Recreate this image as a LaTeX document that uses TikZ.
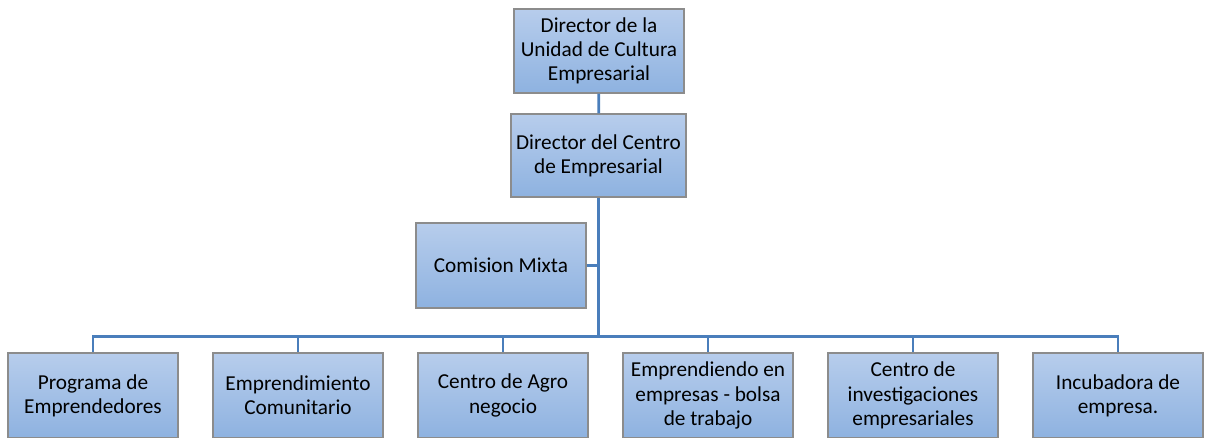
\documentclass[tikz,border=0pt]{standalone}
\usepackage{fontspec}
\setmainfont{Carlito}
\usetikzlibrary{positioning}
\definecolor{lineBlue}{RGB}{74,126,187}
\definecolor{boxTop}{RGB}{183,205,236}
\definecolor{boxBot}{RGB}{142,178,224}
\definecolor{boxEdge}{RGB}{140,140,140}
\tikzset{
  orgbox/.style={draw=boxEdge, line width=0.7pt, top color=boxTop, bottom color=boxBot,
    minimum width=3.4cm, minimum height=1.7cm, align=center, inner sep=1pt,
    font=\fontsize{12.1}{13.8}\selectfont},
  link/.style={draw=lineBlue, line width=1.6pt}
}
\begin{document}
\begin{tikzpicture}
\useasboundingbox (0,0) rectangle (24.14,-8.76);
% top of the chart
\node[orgbox, minimum height=1.68cm] (udir) at (11.98,-1.02) {Director de la\\Unidad de Cultura\\Empresarial};
\node[orgbox, minimum width=3.5cm, minimum height=1.66cm] (cdir) at (11.97,-3.11) {Director del Centro\\de Empresarial};
\node[orgbox] (mixta) at (10.02,-5.31) {Comision Mixta};
% lower row
\node[orgbox] (prog) at (1.86,-7.91) {Programa de\\Emprendedores};
\node[orgbox] (comu) at (5.96,-7.91) {Emprendimiento\\Comunitario};
\node[orgbox] (agro) at (10.06,-7.91) {Centro de Agro\\negocio};
\node[orgbox] (bolsa) at (14.16,-7.91) {Emprendiendo en\\empresas - bolsa\\de trabajo};
\node[orgbox] (inves) at (18.26,-7.91) {Centro de\\investigaciones\\empresariales};
\node[orgbox] (incub) at (22.36,-7.91) {Incubadora de\\empresa.};
\path (cdir.south) ++(0,-2.78) coordinate (bus);
\draw[link] (udir) -- (cdir);
\draw[link] (cdir.south) -- (bus);
\draw[link] (mixta.east) -- (mixta.east -| cdir.south);
\foreach \n in {prog,comu,agro,bolsa,inves,incub}
  \draw[link] (bus) -| (\n.north);
\end{tikzpicture}
\end{document}
